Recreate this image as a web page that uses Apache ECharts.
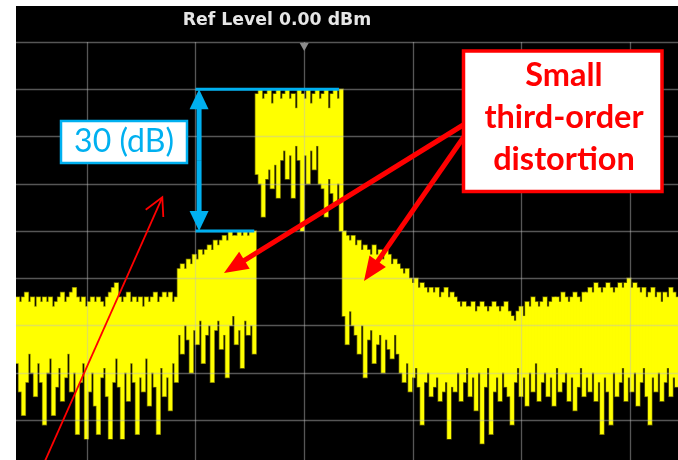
<!DOCTYPE html>
<html>
<head>
<meta charset="utf-8">
<title>Two-tone spectrum with third-order products</title>
<script src="https://cdn.jsdelivr.net/npm/echarts@6/dist/echarts.min.js"></script>
<style>
  html, body { margin: 0; padding: 0; background: #fff; overflow: hidden; }
  #chart { width: 678px; height: 460px; }
</style>
</head>
<body>
<div id="chart"></div>
<script>
// Analyzer display bins: frequency offset from centre, in divisions
const binStart = -2.64;
const binStep = 0.0276;

// Peak and pit detector readings for each display bin (dBm)
const peakDb = [
  -54,-55,-54,-53,-55,-54,-56,-54,-55,-54,
  -55,-54,-56,-55,-54,-53,-55,-54,-53,-52,
  -54,-55,-54,-56,-55,-54,-55,-54,-55,-56,
  -54,-53,-52,-51,-54,-55,-54,-53,-55,-54,
  -55,-54,-56,-54,-55,-54,-53,-55,-54,-53,
  -54,-53,-55,-54,
  -48,-47,-48,-46,-47,-45,-46,-44,-45,-44,
  -43,-44,-42,-43,-42,-41,-42,-40,-41,-41,
  -40,-41,-40,-41,-40,-40,
  -11,-10,-12,-11,-10,-13,-11,-10,-12,-11,
  -10,-12,-11,-14,-10,-11,-12,-10,-13,-11,
  -10,-12,-11,-10,-14,-11,-10,-12,-10,
  -40,-41,-42,-41,
  -43,-42,-44,-43,-44,-45,-43,
  -45,-44,-46,-44,-45,-47,-46,-47,
  -48,-49,-48,-50,-51,-50,-52,
  -51,-52,-53,-52,-53,-52,-54,-53,-52,-54,-53,
  -54,-55,-56,-55,-56,
  -56,-55,-57,-56,-55,-56,-57,-56,-55,-56,-57,-56,-55,-57,
  -58,-59,-57,-56,-58,
  -55,-56,-54,-55,-56,-55,-54,-56,-55,-54,
  -54,-55,-53,-54,-55,-54,-53,-54,-55,-53,
  -53,-52,-53,-51,-52,-53,-52,-51,-52,-53,-52,
  -51,-52,-51,-50,-52,-51,-52,
  -53,-52,-54,-53,-52,-54,-53,-55,-53,-54,-52,-53,-54
];
const pitDb = [
  -68,-74,-79,-72,-66,-70,-75,-68,-72,-81,
  -70,-67,-79,-73,-69,-76,-71,-66,-74,-70,
  -83,-72,-68,-84,-74,-70,-77,-83,-71,-69,
  -75,-84,-72,-67,-73,-84,-70,-76,-68,-72,
  -83,-71,-74,-67,-77,-70,-73,-83,-69,-75,
  -71,-78,-68,-72,
  -62,-66,-60,-63,-70,-61,-64,-59,-68,-62,
  -60,-72,-61,-59,-65,-62,-71,-60,-58,-64,
  -61,-69,-59,-62,-60,-66,
  -28,-30,-37,-29,-27,-31,-26,-33,-25,-23,
  -29,-24,-33,-22,-25,-40,-24,-30,-23,-27,
  -22,-30,-31,-37,-29,-32,-34,-30,-40,
  -58,-64,-57,-60,
  -62,-66,-60,-71,-63,-61,-68,
  -64,-62,-70,-63,-65,-67,-62,-66,
  -70,-72,-68,-74,-71,-69,-73,
  -81,-72,-70,-75,-73,-71,-76,-74,-72,-84,-73,
  -74,-70,-76,-72,-69,-75,-71,-78,-70,-85,
  -73,-69,-83,-74,-71,-76,-70,-73,-75,-81,
  -72,-69,-75,-71,-77,-70,-74,-68,-76,-72,
  -70,-75,-71,-77,-69,-74,-72,-70,-76,-71,
  -78,-73,-69,-75,-71,-74,-70,-76,-72,-83,
  -71,-74,-81,-70,-75,-72,-69,-76,-71,-74,
  -70,-77,-72,-69,-75,-81,-71,-74,-70,-76,
  -72,-69,-75,-71,-73
];

// Display settings and marked levels
const refLevelDb = 0;
const dbPerDiv = 10;
const carrierDb = -10;   // tone level
const im3Db = -40;       // third-order product level

const traceData = peakDb.map((p, i) => [binStart + i * binStep, p, pitDb[i]]);

const chart = echarts.init(document.getElementById('chart'), null, { renderer: 'canvas' });

// one display bin drawn as a vertical bar from pit to peak
function binRenderer(pad, color) {
  return function (params, api) {
    const f = api.value(0);
    const top = api.coord([f, api.value(1)]);
    const bot = api.coord([f, api.value(2)]);
    const w = api.size([binStep, 0])[0] + 0.8;
    return {
      type: 'rect',
      shape: { x: top[0] - w / 2 - pad, y: top[1] - pad, width: w + 2 * pad, height: bot[1] - top[1] + 2 * pad },
      style: { fill: color }
    };
  };
}

const gridLine = { show: true, lineStyle: { color: 'rgba(190,190,190,0.45)', width: 1.3 } };

chart.setOption({
  animation: false,
  backgroundColor: '#000',
  grid: { left: -21.6, top: 42, width: 760.2, height: 425.25, show: false, outerBoundsMode: 'none', containLabel: false },
  xAxis: {
    type: 'value', min: -3, max: 4, interval: 1, z: 5,
    axisLine: { show: false }, axisTick: { show: false }, axisLabel: { show: false },
    splitLine: gridLine
  },
  yAxis: {
    type: 'value', min: refLevelDb - 9 * dbPerDiv, max: refLevelDb, interval: dbPerDiv, z: 5,
    axisLine: { show: false }, axisTick: { show: false }, axisLabel: { show: false },
    splitLine: gridLine
  },
  series: [
    { type: 'custom', z: 2, data: traceData, encode: { x: 0, y: [1, 2] }, renderItem: binRenderer(0.7, '#6f6a00') },
    { type: 'custom', z: 3, data: traceData, encode: { x: 0, y: [1, 2] }, renderItem: binRenderer(0, '#ffff00') }
  ]
});

const pt = (f, db) => chart.convertToPixel({ gridIndex: 0 }, [f, db]);

function arrowParts(x1, y1, x2, y2, shaftW, headLen, headW, color, z) {
  const len = Math.hypot(x2 - x1, y2 - y1);
  const ux = (x2 - x1) / len, uy = (y2 - y1) / len;
  const bx = x2 - ux * headLen, by = y2 - uy * headLen;
  const px = -uy * headW / 2, py = ux * headW / 2;
  return [
    { type: 'line', z: z, shape: { x1: x1, y1: y1, x2: bx + ux, y2: by + uy }, style: { stroke: color, lineWidth: shaftW } },
    { type: 'polygon', z: z, shape: { points: [[x2, y2], [bx + px, by + py], [bx - px, by - py]] }, style: { fill: color } }
  ];
}

const blue = '#00b0f0';
const red = '#ff0000';
const topL = pt(-1.0, carrierDb), topR = pt(0.32, carrierDb);
const botL = pt(-1.0, im3Db), botR = pt(-0.46, im3Db);
const shaftX = pt(-0.968, 0)[0];
const midY = (topL[1] + botL[1]) / 2;
const refMark = pt(0, refLevelDb);

const graphics = [
  // header
  { type: 'text', z: 20, style: { x: 277, y: 21, text: 'Ref Level ' + refLevelDb.toFixed(2) + ' dBm', fill: '#e6e6e6', font: 'bold 17.3px "DejaVu Sans"', textAlign: 'center', textVerticalAlign: 'middle' } },
  { type: 'polygon', z: 20, shape: { points: [[refMark[0] - 4.5, refMark[1] + 1], [refMark[0] + 4.5, refMark[1] + 1], [refMark[0], refMark[1] + 9]] }, style: { fill: '#8c8c8c' } },
  // level brackets
  { type: 'line', z: 20, shape: { x1: topL[0], y1: topL[1], x2: topR[0], y2: topR[1] }, style: { stroke: blue, lineWidth: 3 } },
  { type: 'line', z: 20, shape: { x1: botL[0], y1: botL[1], x2: botR[0], y2: botR[1] }, style: { stroke: blue, lineWidth: 3 } },
  ...arrowParts(shaftX, midY, shaftX, topL[1], 5, 20, 19, blue, 20),
  ...arrowParts(shaftX, midY, shaftX, botL[1], 5, 20, 19, blue, 20),
  { type: 'rect', z: 20, shape: { x: 61, y: 121, width: 126, height: 42 }, style: { fill: '#fff', stroke: blue, lineWidth: 2.5 } },
  { type: 'text', z: 21, style: { x: 124, y: 142, text: (carrierDb - im3Db) + ' (dB)', fill: blue, font: '32px Lato', textAlign: 'center', textVerticalAlign: 'middle' } },
  // thin pointer
  { type: 'line', z: 20, shape: { x1: 45, y1: 461, x2: 162.3, y2: 197.3 }, style: { stroke: red, lineWidth: 1.8 } },
  { type: 'polyline', z: 20, shape: { points: [[145.7, 209.7], [162.3, 197.3], [163.3, 217]] }, style: { stroke: red, lineWidth: 1.8, fill: null } },
  // call-out arrows
  ...arrowParts(468, 122, 224, 273, 5, 24, 20, red, 20),
  ...arrowParts(470, 128, 364, 281, 5, 24, 20, red, 20),
  // call-out box
  { type: 'rect', z: 22, shape: { x: 463.5, y: 51, width: 198.5, height: 140.5 }, style: { fill: '#fff', stroke: red, lineWidth: 3.5 } },
  { type: 'text', z: 23, style: { x: 564, y: 118, text: 'Small\nthird-order\ndistortion', fill: red, font: 'bold 32.5px Lato', lineHeight: 42, textAlign: 'center', textVerticalAlign: 'middle' } },
  // page margins
  { type: 'rect', z: 30, shape: { x: 0, y: 0, width: 16, height: 460 }, style: { fill: '#fff' } },
  { type: 'rect', z: 30, shape: { x: 0, y: 0, width: 678, height: 6 }, style: { fill: '#fff' } }
];

chart.setOption({ graphic: { elements: graphics } });
</script>
</body>
</html>
